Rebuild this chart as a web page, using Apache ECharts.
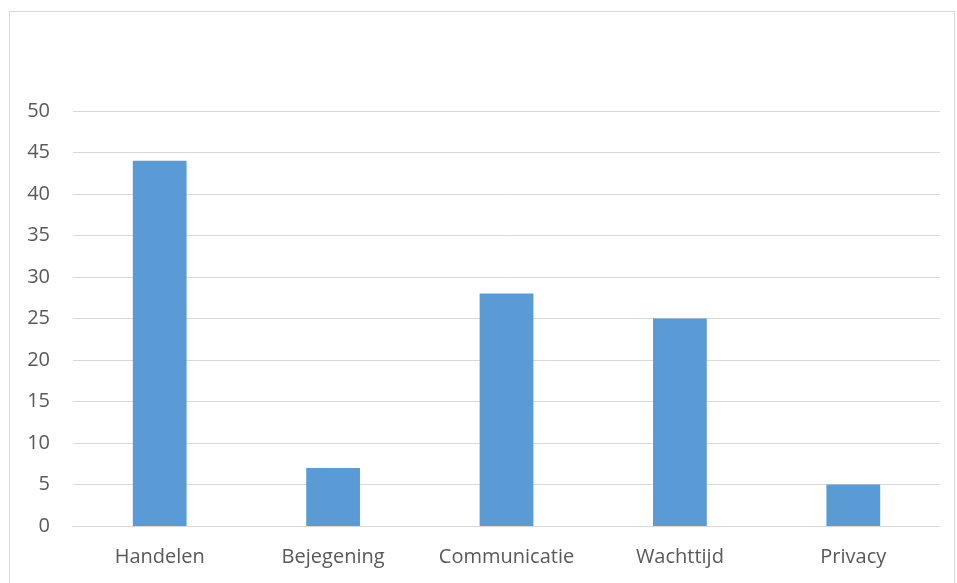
<!DOCTYPE html>
<html>
<head>
<meta charset="utf-8">
<script src="https://cdn.jsdelivr.net/npm/echarts@6/dist/echarts.min.js"></script>
<style>
html,body{margin:0;padding:0;background:#fff;width:957px;height:583px;overflow:hidden;}
#frame{position:absolute;left:9px;top:11px;width:946px;height:600px;border:1px solid #d9d9d9;box-sizing:border-box;}
#main{position:absolute;left:0;top:0;width:957px;height:583px;}
</style>
</head>
<body>
<div id="frame"></div>
<div id="main"></div>
<script>
const categories = ['Handelen', 'Bejegening', 'Communicatie', 'Wachttijd', 'Privacy'];
const values = [44, 7, 28, 25, 5];

const chart = echarts.init(document.getElementById('main'), null, {renderer: 'canvas'});
chart.setOption({
  backgroundColor: 'transparent',
  animation: false,
  textStyle: {fontFamily: '"Open Sans", sans-serif'},
  grid: {left: 73, right: 17, top: 111, bottom: 57, containLabel: false},
  xAxis: {
    type: 'category',
    data: categories,
    axisLine: {show: true, lineStyle: {color: '#d9d9d9', width: 1}},
    axisTick: {show: false},
    axisLabel: {color: '#595959', fontSize: 20, margin: 21, interval: 0, hideOverlap: false, fontFamily: '"Open Sans", sans-serif'}
  },
  yAxis: {
    type: 'value',
    min: 0, max: 50, interval: 5,
    axisLine: {show: false},
    axisTick: {show: false},
    splitLine: {lineStyle: {color: '#d9d9d9', width: 1}},
    axisLabel: {color: '#595959', fontSize: 20, margin: 23, fontFamily: '"Open Sans", sans-serif'}
  },
  series: [{
    type: 'bar',
    data: values,
    barWidth: '31%',
    itemStyle: {color: '#5b9bd5'}
  }]
});
</script>
</body>
</html>
